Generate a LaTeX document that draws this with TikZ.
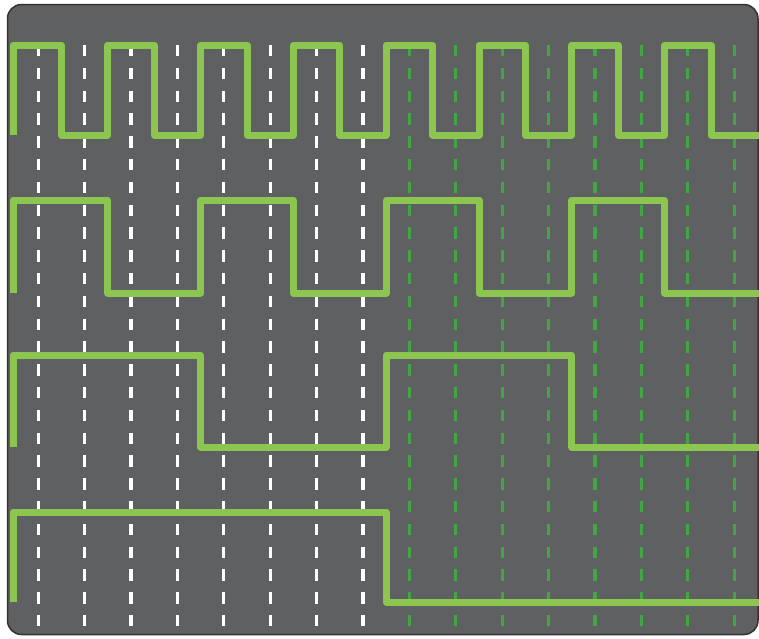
\documentclass[tikz,border=0pt]{standalone}
\usepackage{xcolor}
\usepackage{tikz}
\definecolor{panelgray}{RGB}{95,96,98}
\definecolor{wavegreen}{RGB}{140,198,80}
\definecolor{tickgreen}{RGB}{66,166,66}

\begin{document}
\begin{tikzpicture}[
      x=1pt, y=-1pt,
      panel/.style={draw=black!80, line width=1.5pt, fill=panelgray, rounded corners=14pt},
      wave/.style={draw=wavegreen, line width=7pt, line join=round},
      tick/.style={line width=3.2pt, dash pattern=on 11.4pt off 11.4pt}
    ]
    \useasboundingbox (0,0) rectangle (759,638);
    \path[panel] (7.5,4.5) rectangle (758,634.5);
    \foreach \i in {0,...,15} {
      \pgfmathsetmacro{\tx}{38.2+46.4*\i}
      \ifnum\i<8
        \draw[tick, white] (\tx,45) -- (\tx,627);
      \else
        \draw[tick, tickgreen] (\tx,45) -- (\tx,627);
      \fi
    }
    \draw[wave] (13,135) -- (13,45) -| (61.4,135) -| (107.8,45) -| (154.2,135)
      -| (200.6,45) -| (247,135) -| (293.4,45) -| (339.8,135) -| (386.2,45)
      -| (432.6,135) -| (479,45) -| (525.4,135) -| (571.8,45) -| (618.2,135)
      -| (664.6,45) -| (711,135) -- (759,135);
    \draw[wave] (13,293) -- (13,200) -| (107.8,293) -| (200.6,200) -| (293.4,293)
      -| (386.2,200) -| (479,293) -| (571.8,200) -| (664.6,293) -- (759,293);
    \draw[wave] (13,447) -- (13,355) -| (200.6,447) -| (386.2,355) -| (571.8,447)
      -- (759,447);
    \draw[wave] (13,602) -- (13,512) -| (386.2,602) -- (759,602);
  \end{tikzpicture}
\end{document}
